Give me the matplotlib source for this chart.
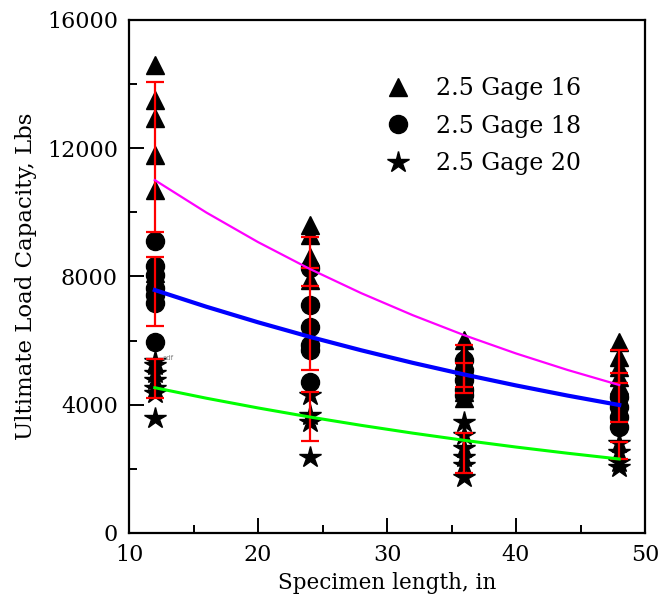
import matplotlib
matplotlib.use("Agg")
import matplotlib.pyplot as plt
from matplotlib.lines import Line2D
from matplotlib.ticker import MultipleLocator

# specimen lengths, in
lengths = [12, 24, 36, 48]

# individual test results, Lbs (one list per specimen length)
g16_loads = [[14590, 13500, 12930, 11790, 10700, 8100],
             [9600, 9290, 8620, 7890],
             [6030, 5600, 5200, 4800, 4400, 4210],
             [5960, 5500, 5190, 4870, 4600]]
g18_loads = [[9100, 8330, 8050, 7630, 7420, 7160, 5950],
             [8250, 7110, 6410, 5860, 5710, 4720],
             [5400, 5080, 4770, 4460, 4300],
             [4250, 3940, 3630, 3310]]
g20_loads = [[5350, 5240, 4980, 4770, 4510, 4360, 3580],
             [4300, 3680, 3470, 2360],
             [3470, 3060, 2640, 2380, 2120, 1760],
             [2800, 2540, 2220, 2070]]

# error bars: centre and half width
g16_err_mid = [11725, 8455, 5210, 5190]
g16_err_half = [2350, 765, 650, 525]
g18_err_mid = [7540, 6668, 4823, 4225]
g18_err_half = [1075, 1585, 467, 755]
g20_err_mid = [4808, 3642, 2485, 2577]
g20_err_half = [608, 764, 623, 270]

# trend curves
curve_x = [12, 16, 20, 24, 28, 32, 36, 40, 44, 48]
g16_curve = [11006, 9993, 9073, 8238, 7480, 6792, 6166, 5599, 5084, 4615]
g18_curve = [7577, 7056, 6571, 6119, 5698, 5306, 4942, 4602, 4285, 3991]
g20_curve = [4531, 4203, 3900, 3618, 3357, 3114, 2889, 2680, 2487, 2307]

labels = ["2.5 Gage 16", "2.5 Gage 18", "2.5 Gage 20"]

plt.rcParams['font.family'] = ['DejaVu Serif']

fig = plt.figure(figsize=(6.66, 6.0), dpi=100)
ax = fig.add_axes([0.1937, 0.1117, 0.7748, 0.855])

markers = ['^', 'o', '*']
sizes = [12.5, 13, 16]
all_loads = [g16_loads, g18_loads, g20_loads]
for loads, m, s in zip(all_loads, markers, sizes):
    xs = []
    ys = []
    for L, vals in zip(lengths, loads):
        xs += [L] * len(vals)
        ys += vals
    ax.plot(xs, ys, linestyle='none', marker=m, markersize=s,
            color='black', zorder=2)

for mid, half in [(g16_err_mid, g16_err_half), (g18_err_mid, g18_err_half),
                  (g20_err_mid, g20_err_half)]:
    ax.errorbar(lengths, mid, yerr=half, fmt='none', ecolor='red',
                elinewidth=1.6, capsize=6.5, capthick=1.6, zorder=3)

ax.plot(curve_x, g16_curve, color='#ff00ff', lw=1.6, zorder=4)
ax.plot(curve_x, g18_curve, color='#0000ff', lw=3.0, zorder=4)
ax.plot(curve_x, g20_curve, color='#00ff00', lw=2.2, zorder=4)

# stray label left in the original figure
ax.text(12.6, 5400, "adf", fontsize=5, color='gray', family='DejaVu Sans')

ax.set_xlim(10, 50)
ax.set_ylim(0, 16000)
ax.xaxis.set_major_locator(MultipleLocator(10))
ax.xaxis.set_minor_locator(MultipleLocator(5))
ax.yaxis.set_major_locator(MultipleLocator(4000))
ax.yaxis.set_minor_locator(MultipleLocator(2000))
ax.tick_params(which='both', direction='in', top=False, right=False,
               width=1.4, labelsize=16)
ax.tick_params(axis='y', which='major', length=11, pad=8)
ax.tick_params(axis='x', which='major', length=11, pad=8)
ax.tick_params(which='minor', length=6)
for sp in ax.spines.values():
    sp.set_linewidth(1.6)

ax.set_xlabel("Specimen length, in", fontsize=15.5, labelpad=4)
ax.set_ylabel("Ultimate Load Capacity, Lbs", fontsize=16.5, labelpad=7)

handles = [Line2D([], [], linestyle='none', marker=m, markersize=s, color='black')
           for m, s in zip(markers, sizes)]
ax.legend(handles, labels, loc='upper left', bbox_to_anchor=(0.4845, 0.888),
          frameon=False, fontsize=17, borderpad=0, borderaxespad=0,
          handlelength=1.6, handletextpad=0.8, labelspacing=0.6, numpoints=1)

fig.savefig("out.png", dpi=100)
